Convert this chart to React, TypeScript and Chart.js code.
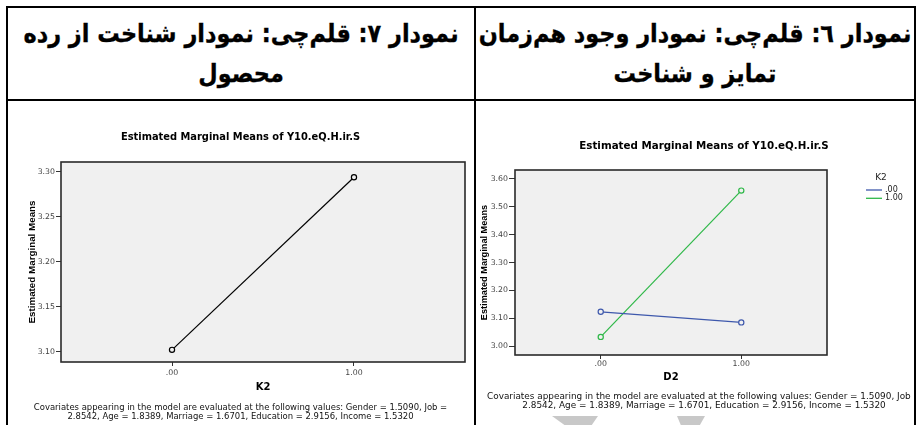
import React, { useEffect, useRef } from 'react';
import { Chart, registerables } from 'chart.js';

Chart.register(...registerables);

// ---------- data ----------
const xValues = [0, 1];
const xTickLabels = ['.00', '1.00'];

const chart7Means = [3.102, 3.294];
const chart7YTicks = [3.1, 3.15, 3.2, 3.25, 3.3];

const chart6LegendTitle = 'K2';
const chart6SeriesLabels = ['.00', '1.00'];
const chart6MeansK2Zero = [3.123, 3.085];
const chart6MeansK2One = [3.033, 3.558];
const chart6YTicks = [3.0, 3.1, 3.2, 3.3, 3.4, 3.5, 3.6];

const chartTitle = 'Estimated Marginal Means of Y10.eQ.H.ir.S';
const yAxisTitle = 'Estimated Marginal Means';
const chart7XTitle = 'K2';
const chart6XTitle = 'D2';
const footnoteLines = [
  'Covariates appearing in the model are evaluated at the following values: Gender = 1.5090, Job =',
  '2.8542, Age = 1.8389, Marriage = 1.6701, Education = 2.9156, Income = 1.5320',
];

const header7 = ['نمودار ۷: قلم‌چی: نمودار شناخت از رده', 'محصول'];
const header6 = ['نمودار ٦: قلم‌چی: نمودار وجود هم‌زمان', 'تمایز و شناخت'];

const FONT = '"DejaVu Sans", sans-serif';
const NARROW = '"Liberation Sans", Arial, sans-serif';
Chart.defaults.font.family = FONT;

// ---------- plugins ----------
const plotFrame = {
  id: 'plotFrame',
  beforeDraw(chart: any) {
    const { ctx, chartArea: a } = chart;
    ctx.save();
    ctx.fillStyle = '#f0f0f0';
    ctx.fillRect(a.left, a.top, a.right - a.left, a.bottom - a.top);
    ctx.restore();
  },
  beforeDatasetsDraw(chart: any) {
    const { ctx, chartArea: a } = chart;
    ctx.save();
    ctx.strokeStyle = '#2a2a2a';
    ctx.lineWidth = 1.6;
    ctx.strokeRect(a.left, a.top, a.right - a.left, a.bottom - a.top);
    ctx.restore();
  },
};

const spssLegend = {
  id: 'spssLegend',
  afterDraw(chart: any, _args: any, opts: any) {
    if (!opts || !opts.title) return;
    const { ctx, chartArea: a } = chart;
    ctx.save();
    ctx.textBaseline = 'middle';
    ctx.fillStyle = '#222';
    ctx.font = `9px ${FONT}`;
    ctx.textAlign = 'center';
    ctx.fillText(opts.title, a.right + opts.titleDx, a.top + opts.titleDy);
    ctx.font = `8px ${FONT}`;
    chart.data.datasets.forEach((ds: any, i: number) => {
      const y = a.top + opts.itemDy + i * opts.itemGap;
      ctx.strokeStyle = ds.borderColor;
      ctx.lineWidth = 1.3;
      ctx.beginPath();
      ctx.moveTo(a.right + opts.lineX0, y);
      ctx.lineTo(a.right + opts.lineX1, y);
      ctx.stroke();
      ctx.fillStyle = '#222';
      ctx.textAlign = 'left';
      ctx.fillText(ds.label, a.right + opts.textX, y);
    });
    ctx.restore();
  },
};

function series(label: string, values: number[], color: string) {
  return {
    label,
    data: xValues.map((x, i) => ({ x, y: values[i] })),
    borderColor: color,
    borderWidth: 1.2,
    pointRadius: 2.6,
    pointBorderWidth: 1.2,
    pointBorderColor: color,
    pointBackgroundColor: '#f0f0f0',
    pointStyle: 'circle',
    tension: 0,
    fill: false,
  };
}

function buildConfig(o: any) {
  const titleLH = o.titleSize * 1.2;
  return {
    type: 'line',
    data: { datasets: o.datasets },
    options: {
      responsive: false,
      animation: false,
      devicePixelRatio: 1,
      layout: { padding: 0 },
      plugins: {
        legend: { display: false },
        tooltip: { enabled: false },
        title: {
          display: true,
          text: chartTitle,
          color: '#000',
          font: { family: FONT, size: o.titleSize, weight: 'bold', lineHeight: 1.2 },
          padding: { top: o.titleCenter - titleLH / 2, bottom: o.areaTop - o.titleCenter - titleLH / 2 },
        },
        subtitle: {
          display: true,
          position: 'bottom',
          text: footnoteLines,
          color: '#111',
          font: { family: FONT, size: o.footSize, weight: 'normal', lineHeight: 8.4 / o.footSize },
          padding: { top: o.footPadTop, bottom: o.footPadBottom },
        },
        spssLegend: o.legend || false,
      },
      scales: {
        x: {
          type: 'linear',
          min: o.xMin,
          max: o.xMax,
          afterBuildTicks: (s: any) => {
            s.ticks = xValues.map((v) => ({ value: v }));
          },
          afterFit: (s: any) => {
            s.height = o.xHeight;
          },
          ticks: {
            callback: (v: number) => xTickLabels[xValues.indexOf(v)],
            color: '#444',
            font: { size: o.tickSize },
            padding: o.xTickPad,
            maxRotation: 0,
            autoSkip: false,
          },
          grid: {
            display: true,
            drawOnChartArea: false,
            drawTicks: true,
            tickLength: o.xTickLen,
            color: '#333',
          },
          border: { display: false },
          title: {
            display: true,
            text: o.xTitle,
            color: '#000',
            font: { size: o.xTitleSize, weight: 'bold', lineHeight: 1.2 },
            padding: { top: 0, bottom: 0 },
          },
        },
        y: {
          type: 'linear',
          min: o.yMin,
          max: o.yMax,
          afterBuildTicks: (s: any) => {
            s.ticks = o.yTicks.map((v: number) => ({ value: v }));
          },
          afterFit: (s: any) => {
            s.width = o.yWidth;
          },
          ticks: {
            callback: (v: number) => Number(v).toFixed(2),
            color: '#444',
            font: { size: o.tickSize },
            padding: o.yTickPad,
            autoSkip: false,
          },
          grid: {
            display: true,
            drawOnChartArea: false,
            drawTicks: true,
            tickLength: o.yTickLen,
            color: '#333',
          },
          border: { display: false },
          title: {
            display: true,
            text: yAxisTitle,
            color: '#000',
            font: { family: NARROW, size: o.yTitleSize, weight: 'bold', lineHeight: 1.2 },
            padding: { top: o.yTitlePad, bottom: 0 },
          },
        },
        yPad: {
          type: 'linear',
          position: 'right',
          display: true,
          afterFit: (s: any) => {
            s.width = o.rightWidth;
          },
          ticks: { display: false },
          grid: { display: false },
          border: { display: false },
        },
      },
    },
    plugins: o.legend ? [plotFrame, spssLegend] : [plotFrame],
  };
}

const chart7Config = () =>
  buildConfig({
    datasets: [series(chart7XTitle, chart7Means, '#000')],
    xMin: -0.61,
    xMax: 1.61,
    yMin: 3.0885,
    yMax: 3.311,
    yTicks: chart7YTicks,
    titleSize: 9.9,
    titleCenter: 35,
    areaTop: 60,
    yWidth: 53,
    yTitleSize: 9.8,
    yTitlePad: 18,
    yTickLen: 5,
    yTickPad: 1,
    tickSize: 7.8,
    xHeight: 31,
    xTitle: chart7XTitle,
    xTitleSize: 10,
    xTickLen: 4,
    xTickPad: 2,
    footSize: 8.46,
    footPadTop: 11.1,
    footPadBottom: 4.1,
    rightWidth: 8,
  });

const chart6Config = () =>
  buildConfig({
    datasets: [
      series(chart6SeriesLabels[0], chart6MeansK2Zero, '#3E58AC'),
      series(chart6SeriesLabels[1], chart6MeansK2One, '#2EB848'),
    ],
    xMin: -0.61,
    xMax: 1.61,
    yMin: 2.968,
    yMax: 3.632,
    yTicks: chart6YTicks,
    titleSize: 10.3,
    titleCenter: 44,
    areaTop: 68,
    yWidth: 38,
    yTitleSize: 9.2,
    yTitlePad: 1.6,
    yTickLen: 6,
    yTickPad: 1,
    tickSize: 7.8,
    xHeight: 28,
    xTitle: chart6XTitle,
    xTitleSize: 10,
    xTickLen: 4,
    xTickPad: 0,
    footSize: 8.9,
    footPadTop: 9.8,
    footPadBottom: 15.4,
    rightWidth: 104,
    legend: {
      title: chart6LegendTitle,
      titleDx: 54,
      titleDy: 7.7,
      lineX0: 39,
      lineX1: 55,
      textX: 58,
      itemDy: 20,
      itemGap: 8.3,
    },
  });

function ChartCanvas({ make, width, height, style }: any) {
  const ref = useRef<HTMLCanvasElement | null>(null);
  useEffect(() => {
    if (!ref.current) return;
    const chart = new Chart(ref.current, make() as any);
    return () => chart.destroy();
  }, []);
  return <canvas ref={ref} width={width} height={height} style={{ display: 'block', position: 'absolute', ...style }} />;
}

const headerFont: React.CSSProperties = {
  position: 'absolute',
  fontFamily: '"DejaVu Sans", sans-serif',
  fontWeight: 'bold',
  fontSize: 22.4,
  color: '#000',
  direction: 'rtl',
  textAlign: 'center',
  whiteSpace: 'nowrap',
  lineHeight: '30px',
  transform: 'scaleY(1.12)',
  WebkitTextStroke: '0.3px #000',
};

export default function App() {
  return (
    <div
      style={{
        position: 'absolute',
        left: 0,
        top: 0,
        width: 917,
        height: 425,
        overflow: 'hidden',
        background: '#fff',
      }}
    >
      {/* table borders */}
      <div style={{ position: 'absolute', left: 6, top: 6, width: 910, height: 440, border: '2px solid #000', boxSizing: 'border-box' }} />
      <div style={{ position: 'absolute', left: 6, top: 99, width: 910, height: 2, background: '#000' }} />
      <div style={{ position: 'absolute', left: 474, top: 6, width: 2, height: 440, background: '#000' }} />

      {/* headers */}
      <div style={{ ...headerFont, left: 8, width: 466, top: 18 }}>{header7[0]}</div>
      <div style={{ ...headerFont, left: 8, width: 466, top: 58 }}>{header7[1]}</div>
      <div style={{ ...headerFont, left: 476, width: 438, top: 18 }}>{header6[0]}</div>
      <div style={{ ...headerFont, left: 476, width: 438, top: 58 }}>{header6[1]}</div>

      {/* left chart (chart 7) */}
      <ChartCanvas make={chart7Config} width={465} height={323} style={{ left: 8, top: 102 }} />

      {/* right chart (chart 6), clipped by the cell */}
      <div style={{ position: 'absolute', left: 476, top: 101, width: 438, height: 324, overflow: 'hidden' }}>
        <ChartCanvas make={chart6Config} width={454} height={323} style={{ left: 1, top: 1 }} />
        <div style={{ position: 'absolute', left: 76, top: 315, width: 46, height: 10, background: '#c8c8c8', clipPath: 'polygon(0 0, 100% 0, 85% 100%, 30% 100%)' }} />
        <div style={{ position: 'absolute', left: 201, top: 315, width: 28, height: 10, background: '#c8c8c8', clipPath: 'polygon(0 0, 100% 0, 80% 100%, 15% 100%)' }} />
      </div>
    </div>
  );
}
